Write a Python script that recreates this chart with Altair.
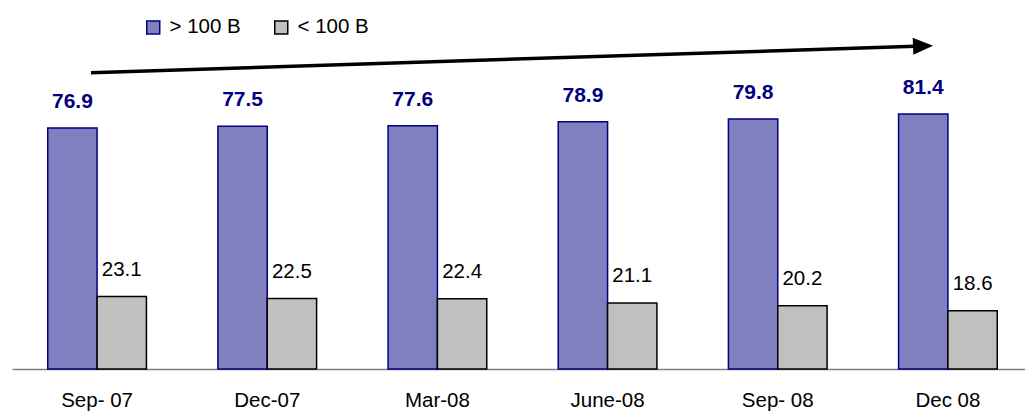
import altair as alt
import pandas as pd

categories = ["Sep- 07", "Dec-07", "Mar-08", "June-08", "Sep- 08", "Dec 08"]
series_names = ["> 100 B", "< 100 B"]
over_100 = [76.9, 77.5, 77.6, 78.9, 79.8, 81.4]
under_100 = [23.1, 22.5, 22.4, 21.1, 20.2, 18.6]

rows = []
for c, a, b in zip(categories, over_100, under_100):
    rows.append({"period": c, "series": series_names[0], "value": a})
    rows.append({"period": c, "series": series_names[1], "value": b})
df = pd.DataFrame(rows)

FONT = "Liberation Sans"
fills = ["#8080C0", "#C0C0C0"]
strokes = ["#000080", "#000000"]

x_enc = alt.X(
    "period:N",
    sort=categories,
    scale=alt.Scale(range=[0, 1021], paddingInner=0.42, paddingOuter=0.21),
    axis=alt.Axis(
        title=None, ticks=False, grid=False, labelAngle=0,
        labelFont=FONT, labelFontSize=20.5, labelColor="#000000",
        labelPadding=21, domainColor="#808080", domainWidth=1.5,
    ),
)
xoff = alt.XOffset("series:N", sort=series_names,
                   scale=alt.Scale(domain=series_names, paddingInner=0, paddingOuter=0))
y_enc = alt.Y("value:Q", scale=alt.Scale(domain=[0, 105], nice=False), axis=None)

base = alt.Chart(df)

bars = base.mark_bar(strokeWidth=1.5).encode(
    x=x_enc,
    xOffset=xoff,
    y=y_enc,
    color=alt.Color(
        "series:N",
        scale=alt.Scale(domain=series_names, range=fills),
        legend=alt.Legend(
            title=None, orient="none", direction="horizontal",
            legendX=131, legendY=-23,
            symbolType="square", symbolSize=169, symbolStrokeWidth=1.5,
            labelFont=FONT, labelFontSize=20.5, labelColor="#000000",
            columnPadding=30, labelOffset=6,
        ),
    ),
    stroke=alt.Stroke(
        "series:N",
        scale=alt.Scale(domain=series_names, range=strokes),
        legend=None,
    ),
)

labels_over = base.transform_filter(
    alt.datum.series == series_names[0]
).mark_text(
    font=FONT, fontSize=21, fontWeight="bold", color="#000080",
    baseline="bottom", dy=-16,
).encode(x=x_enc, xOffset=xoff, y=y_enc, text=alt.Text("value:Q", format=".1f"))

labels_under = base.transform_filter(
    alt.datum.series == series_names[1]
).mark_text(
    font=FONT, fontSize=20.5, color="#000000",
    baseline="bottom", dy=-17,
).encode(x=x_enc, xOffset=xoff, y=y_enc, text=alt.Text("value:Q", format=".1f"))

arrow_line = alt.Chart(pd.DataFrame({"k": [0]})).mark_rule(
    color="#000000", strokeWidth=3.5
).encode(
    x=alt.value(79), y=alt.value(32.7), x2=alt.value(903), y2=alt.value(6.3)
)
arrow_head = alt.Chart(pd.DataFrame({"k": [0]})).mark_point(
    shape="M-1,-0.85L1,0L-1,0.85Z", filled=True, color="#000000",
    size=400, opacity=1, angle=358,
).encode(x=alt.value(911), y=alt.value(6.0))

chart = alt.layer(bars, labels_over, labels_under, arrow_line, arrow_head).properties(
    width=1013, height=329,
    autosize=alt.AutoSizeParams(type="none"),
    padding={"left": 12, "top": 40, "right": 0, "bottom": 42},
).configure_view(stroke=None)

chart.save("out.html", embed_options={"renderer": "svg", "actions": False})
